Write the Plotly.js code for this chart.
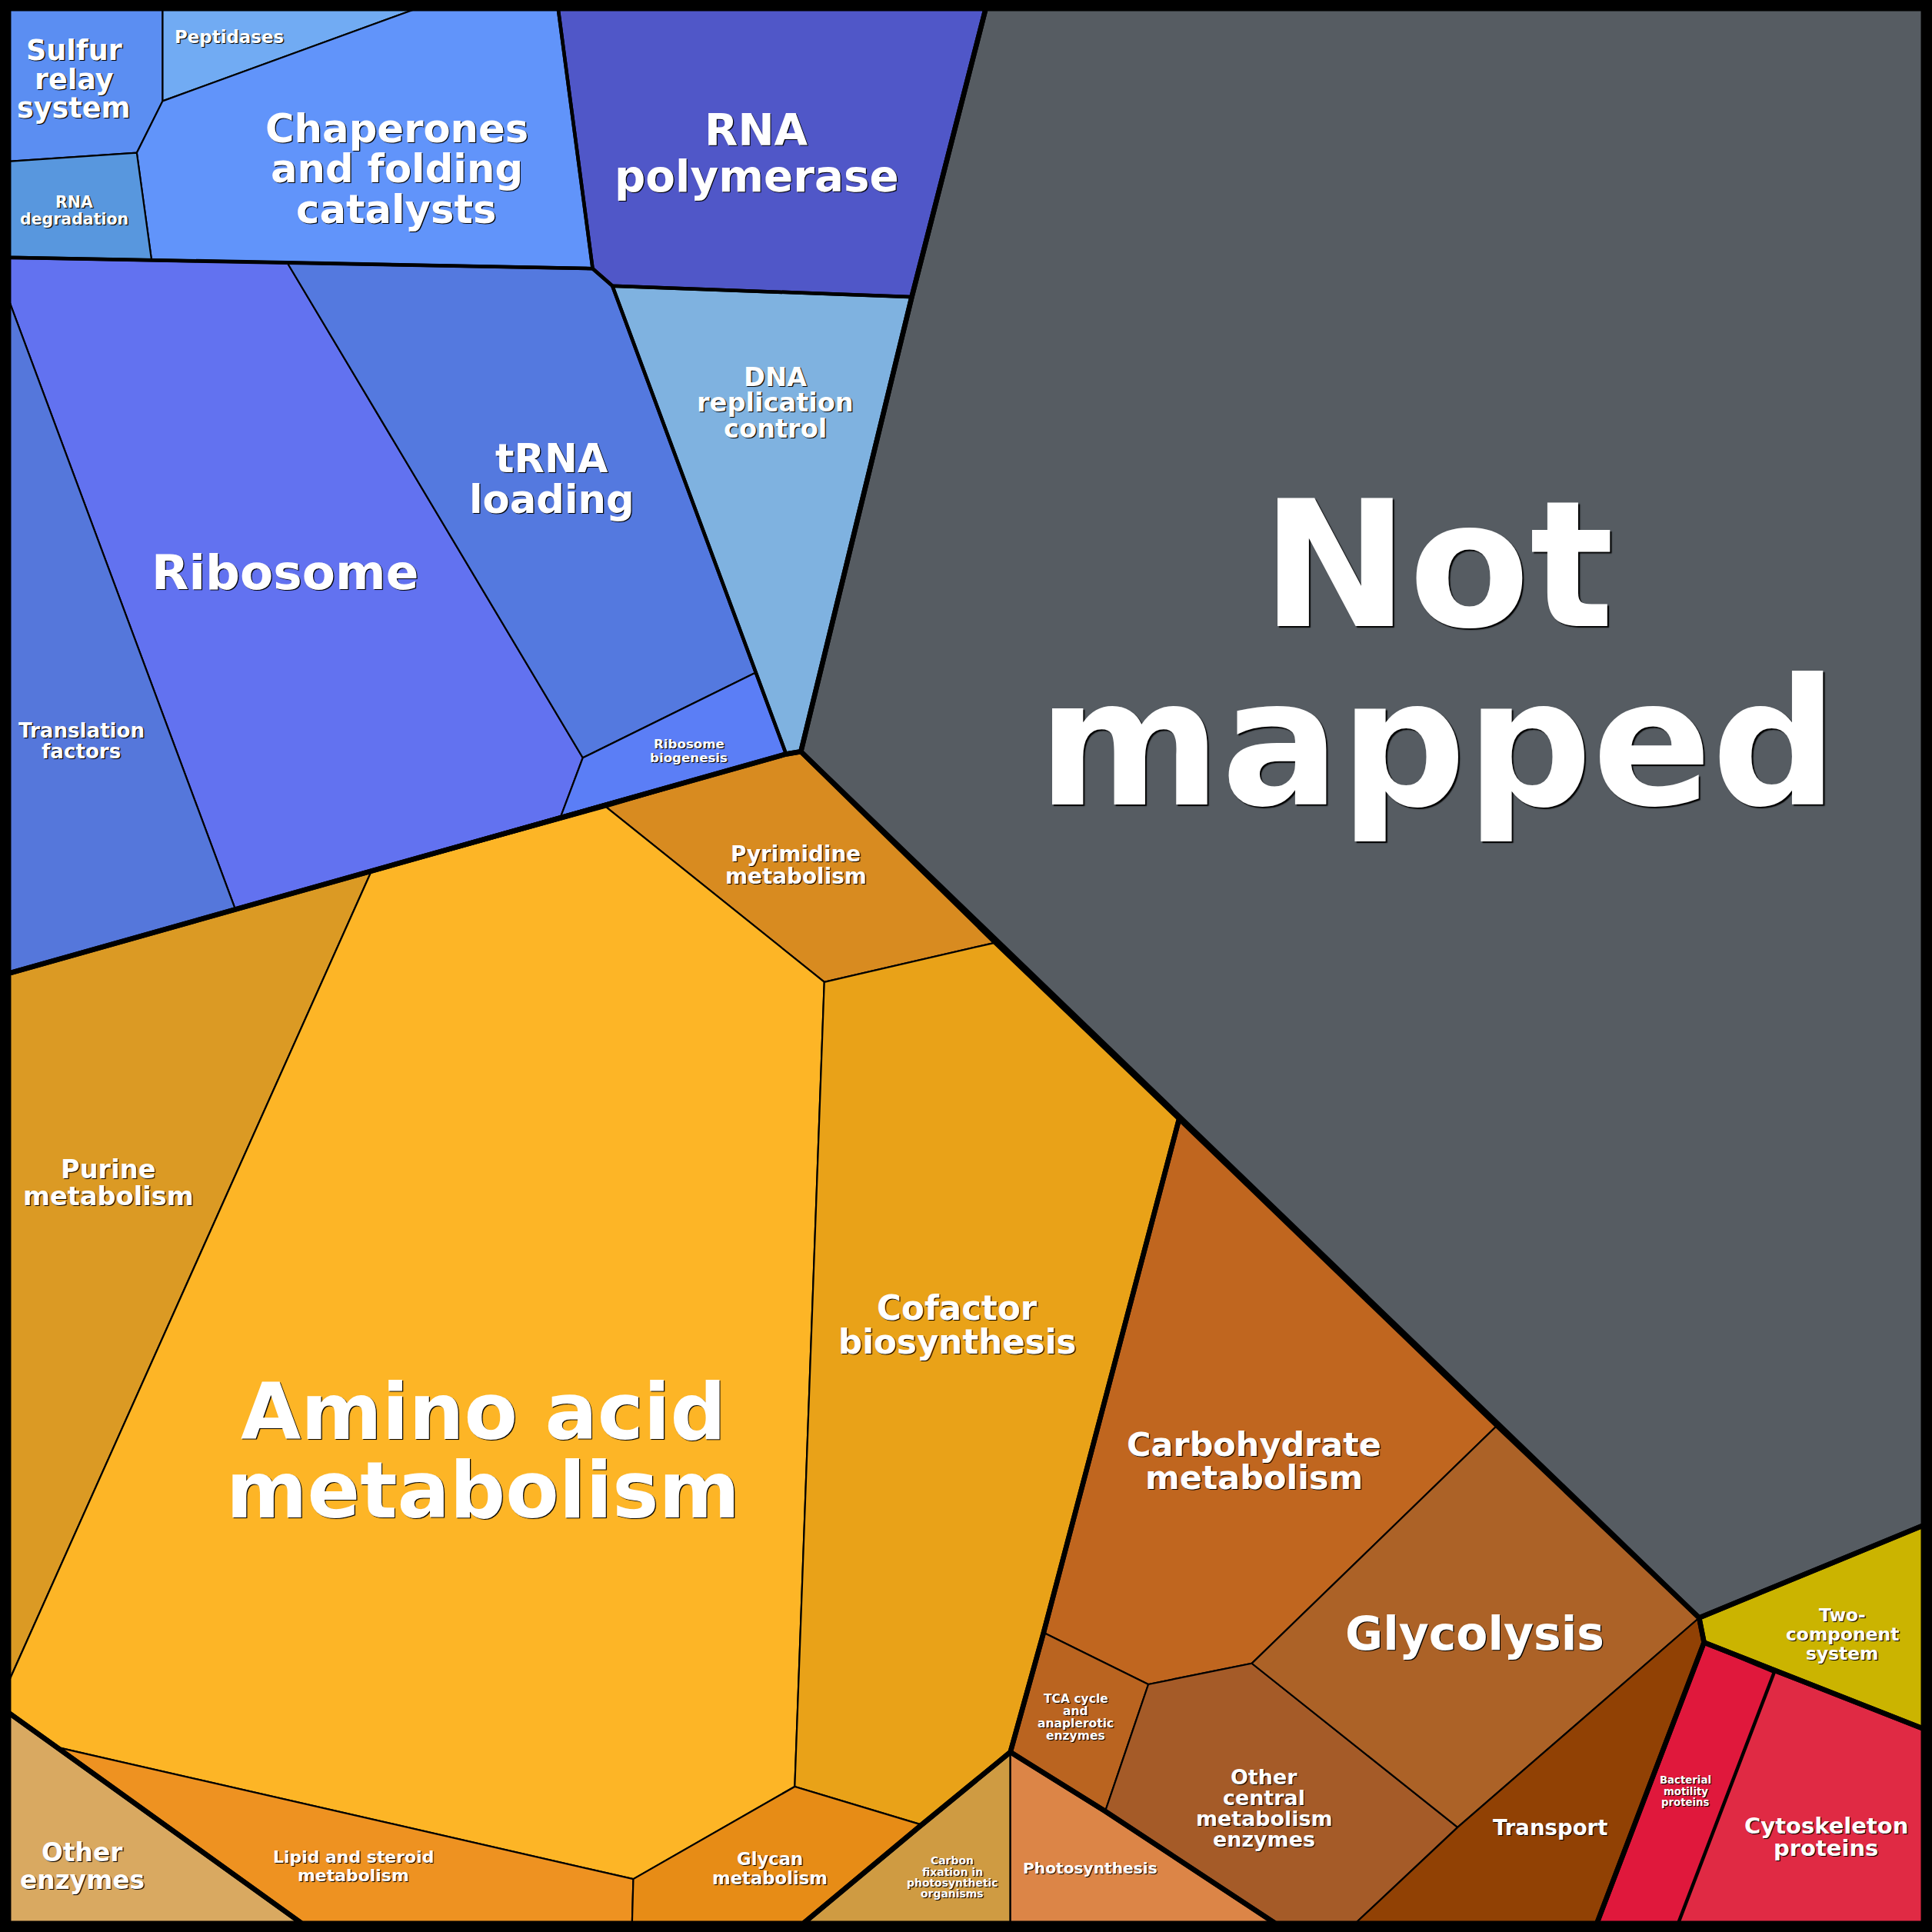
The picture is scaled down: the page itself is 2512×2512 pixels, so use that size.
<!DOCTYPE html>
<html>
<head>
<meta charset="utf-8">
<script src="https://cdn.plot.ly/plotly-3.0.1.min.js"></script>
<style>html,body{margin:0;padding:0;background:#000;}#chart{width:2512px;height:2512px;}</style>
</head>
<body>
<div id="chart"></div>
<script>
// ---- DATA (Voronoi treemap cells, unit space 0..1568) ----
const cellNames = [
  "Sulfur relay system","Peptidases","Chaperones and folding catalysts","RNA degradation",
  "RNA polymerase","DNA replication control","Ribosome","tRNA loading","Ribosome biogenesis",
  "Translation factors","Not mapped","Pyrimidine metabolism","Purine metabolism",
  "Amino acid metabolism","Cofactor biosynthesis","Lipid and steroid metabolism","Glycan metabolism",
  "Other enzymes","Carbon fixation in photosynthetic organisms","Photosynthesis",
  "Carbohydrate metabolism","TCA cycle and anaplerotic enzymes","Other central metabolism enzymes",
  "Glycolysis","Transport","Two-component system","Bacterial motility proteins","Cytoskeleton proteins"
];
const cellColors = [
  "#5b8ef2","#71abf3","#6194fa","#5897de",
  "#5057c8","#7fb2e0","#6272f0","#5479df","#5b7ef6",
  "#5577db","#565c62","#d88b20","#db9a24",
  "#fdb526","#e9a218","#ee9221","#e78c16",
  "#d9a961","#cf9b42","#dc8547",
  "#c0661f","#ba6420","#a55b28",
  "#ac6227","#914104","#cbb400","#e0183c","#e02a44"
];
const cellPolygons = [
  [[7,7],[132,7],[132,82],[111,124],[7,131]],
  [[132,7],[338,7],[132,82]],
  [[338,7],[453,7],[481,218],[233,213],[123,211],[111,124],[132,82]],
  [[7,131],[111,124],[123,211],[7,209]],
  [[453,7],[800,7],[740,241],[497,232],[481,218]],
  [[497,232],[740,241],[650,610],[638,612]],
  [[7,209],[123,211],[233,213],[473,615],[455,663],[191,738],[7,243]],
  [[233,213],[481,218],[497,232],[613,546],[473,615]],
  [[473,615],[613,546],[638,612],[455,663]],
  [[7,243],[191,738],[7,790]],
  [[800,7],[1561,7],[1561,1238],[1379,1313],[650,610],[740,241]],
  [[492,655],[638,612],[650,610],[808,765],[669,797]],
  [[7,790],[191,738],[301,708],[7,1365]],
  [[301,708],[492,655],[669,797],[645,1450],[514,1525],[46,1418],[7,1390],[7,1365]],
  [[669,797],[808,765],[957,908],[847,1325],[820,1422],[748,1481],[645,1450]],
  [[46,1418],[514,1525],[513,1561],[245,1561]],
  [[514,1525],[645,1450],[748,1481],[652,1561],[513,1561]],
  [[7,1390],[46,1418],[245,1561],[7,1561]],
  [[748,1481],[820,1422],[820,1561],[652,1561]],
  [[820,1422],[897,1470],[1035,1561],[820,1561]],
  [[957,908],[1215,1157],[1016,1350],[932,1367],[847,1325]],
  [[847,1325],[932,1367],[897,1470],[820,1422]],
  [[932,1367],[1016,1350],[1183,1483],[1100,1561],[1035,1561],[897,1470]],
  [[1215,1157],[1379,1313],[1183,1483],[1016,1350]],
  [[1379,1313],[1383,1333],[1296,1561],[1100,1561],[1183,1483]],
  [[1379,1313],[1561,1238],[1561,1403],[1383,1333]],
  [[1383,1333],[1440,1357],[1362,1561],[1296,1561]],
  [[1440,1357],[1561,1403],[1561,1561],[1362,1561]]
];
// Parent-level cells (outlines of the hierarchy)
const topGroupPolygons = [
  [[7,7],[800,7],[740,241],[650,610],[638,612],[7,790]],
  [[800,7],[1561,7],[1561,1238],[1379,1313],[650,610],[740,241]],
  [[7,790],[638,612],[650,610],[808,765],[957,908],[847,1325],[820,1422],[748,1481],[652,1561],[245,1561],[46,1418],[7,1390]],
  [[7,1390],[46,1418],[245,1561],[7,1561]],
  [[748,1481],[820,1422],[897,1470],[1035,1561],[652,1561]],
  [[957,908],[1215,1157],[1379,1313],[1383,1333],[1296,1561],[1035,1561],[897,1470],[820,1422],[847,1325]],
  [[1379,1313],[1561,1238],[1561,1403],[1383,1333]],
  [[1383,1333],[1561,1403],[1561,1561],[1296,1561]]
];
const midGroupPolygons = [
  [[7,7],[453,7],[481,218],[233,213],[123,211],[7,209]],
  [[453,7],[800,7],[740,241],[497,232],[481,218]],
  [[497,232],[740,241],[650,610],[638,612]],
  [[7,209],[123,211],[233,213],[481,218],[497,232],[638,612],[455,663],[191,738],[7,790]],
  [[1383,1333],[1440,1357],[1362,1561],[1296,1561]]
];
// Labels (text per cell)
const labelTexts = {
  "Sulfur relay system":"Sulfur\nrelay\nsystem",
  "Peptidases":"Peptidases",
  "Chaperones and folding catalysts":"Chaperones\nand folding\ncatalysts",
  "RNA degradation":"RNA\ndegradation",
  "RNA polymerase":"RNA\npolymerase",
  "DNA replication control":"DNA\nreplication\ncontrol",
  "Ribosome":"Ribosome",
  "tRNA loading":"tRNA\nloading",
  "Ribosome biogenesis":"Ribosome\nbiogenesis",
  "Translation factors":"Translation\nfactors",
  "Not mapped":"Not\nmapped",
  "Pyrimidine metabolism":"Pyrimidine\nmetabolism",
  "Purine metabolism":"Purine\nmetabolism",
  "Amino acid metabolism":"Amino acid\nmetabolism",
  "Cofactor biosynthesis":"Cofactor\nbiosynthesis",
  "Lipid and steroid metabolism":"Lipid and steroid\nmetabolism",
  "Glycan metabolism":"Glycan\nmetabolism",
  "Other enzymes":"Other\nenzymes",
  "Carbon fixation in photosynthetic organisms":"Carbon\nfixation in\nphotosynthetic\norganisms",
  "Photosynthesis":"Photosynthesis",
  "Carbohydrate metabolism":"Carbohydrate\nmetabolism",
  "TCA cycle and anaplerotic enzymes":"TCA cycle\nand\nanaplerotic\nenzymes",
  "Other central metabolism enzymes":"Other\ncentral\nmetabolism\nenzymes",
  "Glycolysis":"Glycolysis",
  "Transport":"Transport",
  "Two-component system":"Two-\ncomponent\nsystem",
  "Bacterial motility proteins":"Bacterial\nmotility\nproteins",
  "Cytoskeleton proteins":"Cytoskeleton\nproteins"
};

// ---- STYLE / LAYOUT (label placement: [cx, cy, fontSize, lineSpacing] in unit space) ----
const labelStyle = {
  "Sulfur relay system":[60,64.5,22.8,23.5],
  "Peptidases":[186,30,14.3,15],
  "Chaperones and folding catalysts":[322,137,32,33],
  "RNA degradation":[60,171,12.8,14],
  "RNA polymerase":[614,124.5,35.2,37],
  "DNA replication control":[629,327,21,21],
  "Ribosome":[231,465,39.3,40],
  "tRNA loading":[448,388.5,32,33],
  "Ribosome biogenesis":[559,609.5,10.4,11],
  "Translation factors":[66,601.5,16.3,17],
  "Not mapped":[1167,531,143,145],
  "Pyrimidine metabolism":[646,702,17.4,18],
  "Purine metabolism":[88,960,21,22],
  "Amino acid metabolism":[392,1178,63.2,64],
  "Cofactor biosynthesis":[777,1075.5,27.2,27],
  "Lipid and steroid metabolism":[287,1514.5,13.7,15],
  "Glycan metabolism":[625,1516.5,14.2,15],
  "Other enzymes":[67,1515,20.5,22],
  "Carbon fixation in photosynthetic organisms":[773,1523.5,8.7,9],
  "Photosynthesis":[885,1516,12.6,13],
  "Carbohydrate metabolism":[1018,1185.5,26.8,27],
  "TCA cycle and anaplerotic enzymes":[873,1394,9.7,10],
  "Other central metabolism enzymes":[1026,1467.5,16.8,17],
  "Glycolysis":[1197,1326,37.4,38],
  "Transport":[1258,1483,17.2,18],
  "Two-component system":[1495,1326.5,14.6,15.5],
  "Bacterial motility proteins":[1368,1454,8.3,9],
  "Cytoskeleton proteins":[1482,1491,18.1,18]
};

const U = 1568, PX = 2512 / U;
const closeRing = p => p.concat([p[0]]);
const traces = [];
cellPolygons.forEach((poly, i) => {
  const ring = closeRing(poly);
  traces.push({
    type: 'scatter', mode: 'lines', fill: 'toself',
    x: ring.map(p => p[0]), y: ring.map(p => p[1]),
    fillcolor: cellColors[i], line: {color: '#000', width: 2.2},
    name: cellNames[i], text: cellNames[i], hoverinfo: 'text', showlegend: false
  });
});
midGroupPolygons.forEach(poly => {
  const ring = closeRing(poly);
  traces.push({type:'scatter', mode:'lines', x: ring.map(p=>p[0]), y: ring.map(p=>p[1]),
    line:{color:'#000', width:4.5}, hoverinfo:'skip', showlegend:false});
});
topGroupPolygons.forEach(poly => {
  const ring = closeRing(poly);
  traces.push({type:'scatter', mode:'lines', x: ring.map(p=>p[0]), y: ring.map(p=>p[1]),
    line:{color:'#000', width:6.5}, hoverinfo:'skip', showlegend:false});
});

const annotations = [];
cellNames.forEach(name => {
  const st = labelStyle[name]; if (!st) return;
  const [cx, cy, fs, sp] = st;
  const lines = labelTexts[name].split('\n');
  const n = lines.length;
  const px = fs * PX;
  const d = Math.max(1.2, px * 0.009).toFixed(1);
  const b = (d * 0.6).toFixed(1);
  lines.forEach((ln, k) => {
    annotations.push({
      xref:'x', yref:'y', x: cx, y: cy + (k - (n - 1) / 2) * sp,
      text: ln, showarrow:false, xanchor:'center', yanchor:'middle',
      font:{family:'DejaVu Sans, sans-serif', size: px, color:'#ffffff', weight: 700,
            shadow: d + 'px ' + d + 'px ' + b + 'px #000'}
    });
  });
});

const layout = {
  width: 2512, height: 2512,
  margin: {l:0, r:0, t:0, b:0, pad:0},
  paper_bgcolor: '#000', plot_bgcolor: '#000',
  xaxis: {range:[0, U], visible:false, showgrid:false, zeroline:false, fixedrange:true},
  yaxis: {range:[U, 0], visible:false, showgrid:false, zeroline:false, fixedrange:true},
  annotations: annotations,
  showlegend: false, hovermode: 'closest'
};
Plotly.newPlot('chart', traces, layout, {staticPlot:true, displayModeBar:false});
</script>
</body>
</html>
